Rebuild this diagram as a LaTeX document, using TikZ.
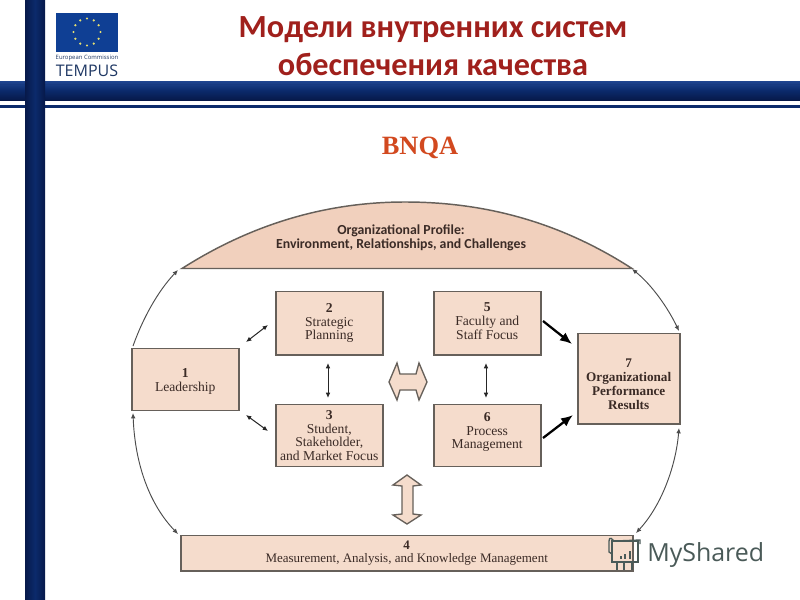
\documentclass[tikz,border=0pt]{standalone}
\usepackage{fontspec}
\setmainfont{Liberation Serif}
\newfontfamily\titlefont{Carlito}
\newfontfamily\logofont{Open Sans}
\usetikzlibrary{arrows.meta,calc}
\definecolor{navy}{HTML}{0B2A6B}
\definecolor{navyd}{HTML}{07194A}
\definecolor{navyl}{HTML}{1F4590}
\definecolor{boxfill}{HTML}{F5DCCC}
\definecolor{domefill}{HTML}{F1D0BD}
\definecolor{boxline}{HTML}{66605A}
\definecolor{inktext}{HTML}{3B2B26}
\definecolor{titlered}{HTML}{A0201C}
\definecolor{bnqa}{HTML}{D2491F}
\definecolor{flagblue}{HTML}{0F3F94}
\definecolor{starcol}{HTML}{E8E070}
\definecolor{tempus}{HTML}{1F3864}
\definecolor{wm}{HTML}{4A5A58}
\tikzset{
  x=0.75pt,y=-0.75pt,
  stage/.style={draw=boxline,line width=1.4pt,fill=boxfill,text=inktext,align=center,inner sep=0pt,outer sep=0pt,font=\fontsize{10.2}{10.2}\selectfont,anchor=north west},
  link/.style={black!85,line width=0.75pt,{Latex[length=4pt,width=3.5pt]}-{Latex[length=4pt,width=3.5pt]}},
  loop/.style={black!70,line width=0.7pt,-{Latex[length=4pt,width=3.5pt]}},
  loopboth/.style={black!70,line width=0.7pt,{Latex[length=4pt,width=3.5pt]}-{Latex[length=4pt,width=3.5pt]}},
  heavy/.style={black,line width=1.7pt,-{Latex[length=9pt,width=7.5pt]}},
  blockarrow/.style={draw=boxline,line width=1pt,fill=boxfill,line join=miter},
}
\begin{document}
\begin{tikzpicture}
\useasboundingbox (0,0) rectangle (800,600);
\fill[white] (0,0) rectangle (800,600);
% horizontal bars
\shade[top color=navyl,bottom color=navyd,middle color=navy] (0,81) rectangle (800,100);
\fill[navyl!60!navy] (0,84) rectangle (800,86);
\fill[navy] (0,104.5) rectangle (800,108);
% vertical bar
\shade[left color=navyd,right color=navyd,middle color=navy] (25,0) rectangle (45,600);
\draw[navyd,line width=0.5pt] (25,0) -- (25,600);
% flag
\fill[flagblue] (56,13) rectangle (118,52);
\foreach \a in {0,30,...,330}{\fill[starcol] ($(87,32)+(\a:13.5)$) circle (1.2);}
\node[text=tempus,font=\logofont\fontsize{4.45}{6}\selectfont,inner sep=0pt] (ec) at (87,58) {European Commission};
\node[text=tempus,font=\logofont\fontsize{12}{12}\selectfont,inner sep=0pt] (tp) at (87,71) {TEMPUS};
% titles
\node[text=titlered,font=\titlefont\bfseries\fontsize{24.2}{28.5}\selectfont,align=center,inner sep=0pt] (title) at (433,46) {Модели внутренних систем\\обеспечения качества};
\node[text=bnqa,font=\bfseries\fontsize{19.8}{20}\selectfont,inner sep=0pt] (bnqa) at (420,147.5) {BNQA};
% dome
\draw[draw=boxline,line width=1.1pt,fill=domefill] (182,268.5) .. controls (255,222) and (330,202) .. (405,202) .. controls (485,202) and (560,222) .. (632,268.5) -- cycle;
\node[text=inktext,font=\titlefont\bfseries\fontsize{10.35}{10.5}\selectfont,align=center,inner sep=0pt] (profile) at (401,238) {Organizational Profile:\\Environment, Relationships, and Challenges};
% boxes
\node[stage,minimum width=80.3pt,minimum height=46.5pt] (b1) at (131.7,348.5) {\rule{0pt}{10pt}{\bfseries 1}\\Leadership};
\node[stage,minimum width=80.3pt,minimum height=47.3pt] (b2) at (275.7,291.5) {{\bfseries 2}\\Strategic\\Planning};
\node[stage,minimum width=80.3pt,minimum height=46.5pt] (b3) at (275.7,404.5) {{\bfseries 3}\\Student,\\Stakeholder,\\and Market Focus};
\node[stage,minimum width=80.3pt,minimum height=47.3pt] (b5) at (433.7,291.5) {{\bfseries 5}\\Faculty and\\Staff Focus\rule[-3pt]{0pt}{0pt}};
\node[stage,minimum width=80.3pt,minimum height=46.5pt] (b6) at (433.7,404.5) {{\bfseries 6}\\Process\\Management\rule[-7pt]{0pt}{0pt}};
\node[stage,minimum width=76.5pt,minimum height=68pt,font=\bfseries\fontsize{9.9}{10.4}\selectfont] (b7) at (577.7,333.5) {\rule{0pt}{14.5pt}7\\Organizational\\Performance\\Results};
\node[stage,minimum width=339pt,minimum height=26.3pt,font=\fontsize{9.75}{9.75}\selectfont] (b4) at (180.7,535.5) {{\bfseries 4}\\Measurement, Analysis, and Knowledge Management};
% free ends
\coordinate (d1) at (178,270);
\coordinate (d2) at (632,269);
\coordinate (l1) at (133,346);
\coordinate (l2) at (133,413);
\coordinate (r1) at (679,331);
\coordinate (r2) at (679,428);
\coordinate (m1) at (178,534);
\coordinate (m2) at (636,533);
% curved connectors
\draw[loop] (l1) .. controls (143,318) and (158,291) .. (d1);
\draw[loopboth] (d2) .. controls (652,285) and (668,308) .. (r1);
\draw[loopboth] (m1) .. controls (150,505) and (135,465) .. (l2);
\draw[loopboth] (m2) .. controls (662,505) and (676,465) .. (r2);
% small connectors
\coordinate (a1) at (246,342); \coordinate (a2) at (268,325);
\coordinate (a3) at (246,415); \coordinate (a4) at (268,431);
\coordinate (a5) at (328,363); \coordinate (a6) at (328,398);
\coordinate (a7) at (486,363); \coordinate (a8) at (486,398);
\coordinate (a9) at (543,321); \coordinate (a10) at (572,344);
\coordinate (a11) at (543,438); \coordinate (a12) at (573,415);
\draw[link] (a1) -- (a2);
\draw[link] (a3) -- (a4);
\draw[link] (a5) -- (a6);
\draw[link] (a7) -- (a8);
\draw[heavy] (a9) -- (a10);
\draw[heavy] (a11) -- (a12);
% block arrows
\draw[blockarrow] (389,382) -- (397,363) -- (400,374) -- (416,374) -- (419,363) -- (427,382) -- (419,400) -- (416,390) -- (400,390) -- (397,400) -- cycle;
\draw[blockarrow] (407,475) -- (421,485) -- (413,486) -- (413,514) -- (421,515) -- (407,524) -- (393,515) -- (402,514) -- (402,486) -- (393,485) -- cycle;
% watermark
\begin{scope}[wm,line width=1pt]
\draw (612,541) rectangle (638,562);
\draw (609,541) .. controls (609,536) and (613,539) .. (614,541) -- (640,540) -- (640,544);
\draw (609,541) -- (609,552) -- (612,554);
\fill (620,556) rectangle (622,559);
\fill (624,554) rectangle (626,559);
\fill (629,551) rectangle (631,559);
\draw (617,562) -- (617,570) (624,562) -- (624,570) (632,562) -- (632,570);
\end{scope}
\node[text=wm,font=\logofont\fontsize{18.7}{22}\selectfont,inner sep=0pt,anchor=west] (ms) at (647,555) {MyShared};
\end{tikzpicture}
\end{document}
